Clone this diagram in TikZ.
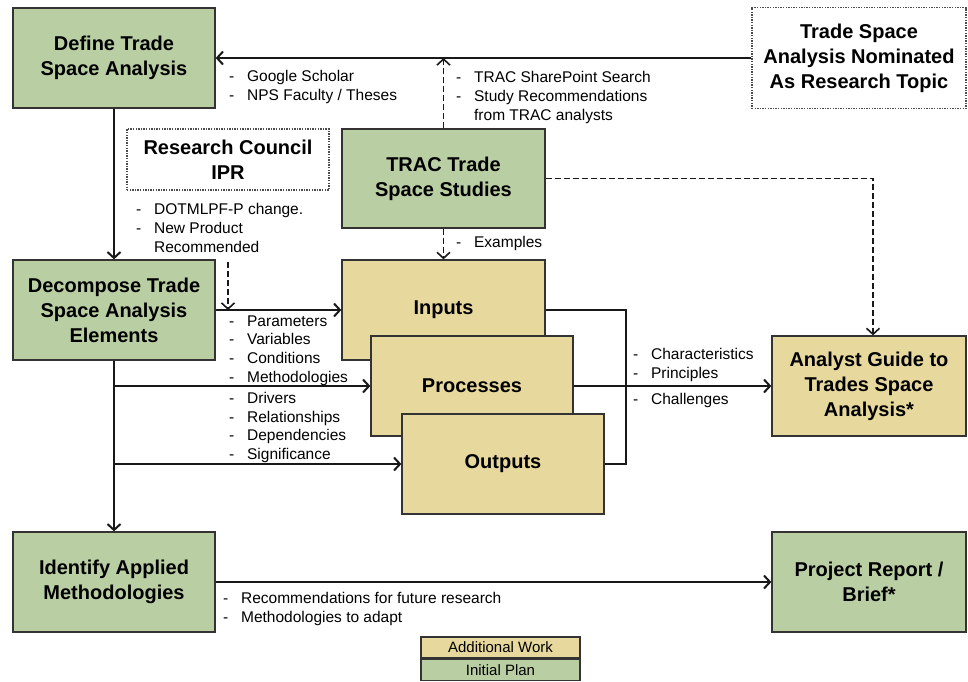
\documentclass[tikz,border=0pt]{standalone}
\usepackage{fontspec}
\setmainfont{Liberation Sans}
\usepackage{xcolor}
\usepackage{tikz}
\usetikzlibrary{arrows.meta}
\usetikzlibrary{calc}
\usetikzlibrary{positioning}

\definecolor{plangreen}{RGB}{185,207,163}
\definecolor{workyellow}{RGB}{231,216,157}
\newcommand{\notelist}[1]{\begin{tabular}{@{}l@{\hspace{13pt}}l@{}}#1\end{tabular}}

\begin{document}
\begin{tikzpicture}[x=1pt,y=-1pt,>={Straight Barb[length=6pt,width=13pt]},line width=2pt]
 				 \tikzstyle{box}=[draw=black!80, line width=1.3pt, rectangle, minimum width=202pt, minimum height=100pt, align=center, inner sep=2pt, font=\fontsize{20}{25}\selectfont\bfseries]
 				 \tikzstyle{initial}=[box, fill=plangreen]
 				 \tikzstyle{additional}=[box, fill=workyellow]
 				 \tikzstyle{topic}=[box, draw=black!70, line width=1.2pt, dash pattern=on 1.4pt off 1.2pt, fill=white]
 				 \tikzstyle{note}=[anchor=north west, inner sep=0pt, font=\fontsize{15.5}{19}\selectfont]
 				 \tikzstyle{legend}=[draw=black!80, line width=1.2pt, minimum width=159pt, minimum height=21pt, inner sep=0pt, font=\fontsize{15}{18}\selectfont]
 				 \tikzstyle{flow}=[->, line width=2pt, black!90]
 				 \tikzstyle{hint}=[->, line width=1.6pt, black!90, dash pattern=on 6pt off 3pt]
 				 \useasboundingbox (0,0) rectangle (968,681);
 					 \node[initial] (define) at (114,58) {Define Trade\\Space Analysis};
 					 \node[topic, minimum width=214pt, minimum height=101pt] (nominated) at (859,58) {Trade Space\\Analysis Nominated\\As Research Topic};
 					 \node[topic, minimum height=61pt] (council) at (228,159.5) {Research Council\\IPR};
 					 \node[initial, minimum width=203pt, minimum height=99pt] (trac) at (443.5,178.5) {TRAC Trade\\Space Studies};
 					 \node[initial] (decompose) at (114,310) {Decompose Trade\\Space Analysis\\Elements};
 					 \node[additional, minimum width=203pt] (inputs) at (443.5,310) {Inputs};
 					 \node[additional] (processes) at (472,386) {Processes};
 					 \node[additional] (outputs) at (503,464) {Outputs};
 					 \node[additional, minimum width=194pt] (guide) at (869,386) {Analyst Guide to\\Trades Space\\Analysis*};
 					 \node[initial] (identify) at (114,582) {Identify Applied\\Methodologies};
 					 \node[initial, minimum width=194pt] (report) at (869,582) {Project Report /\\Brief*};
 					 \node[legend, fill=workyellow] (legadd) at (500.5,647.5) {Additional Work};
 					 \node[legend, fill=plangreen, below=0pt of legadd] (legplan) {Initial Plan};
 					 \coordinate (ipr) at (228,262);
				\path[flow]
				(nominated) edge (define)
				(define) edge (decompose)
				(decompose) edge (inputs)
				(decompose) edge (identify)
				(processes) edge (guide)
				(identify) edge (report);
				\draw[flow] (decompose.south |- processes.west) -- (processes.west);
				\draw[flow] (decompose.south |- outputs.west) -- (outputs.west);
				\draw[line width=2pt, black!90] (inputs.east) -- ++(80,0) |- (outputs.east);
				\draw[hint] (trac.north) -- (trac.north |- define.east);
				\draw[hint] (trac) -- (inputs);
				\draw[hint] (trac) -| ([xshift=4pt]guide.north);
				\draw[hint] (ipr) -- (ipr |- decompose.east);
				% edge labels
 					 \node[note] (sources) at (228,67) {\notelist{- & Google Scholar\\- & NPS Faculty / Theses}};
 					 \node[note] (tracnotes) at (455,68) {\notelist{- & TRAC SharePoint Search\\- & Study Recommendations\\ & from TRAC analysts}};
 					 \node[note] (councilnotes) at (135,200) {\notelist{- & DOTMLPF-P change.\\- & New Product\\ & Recommended}};
 					 \node[note] (examples) at (455,233) {\notelist{- & Examples}};
 					 \node[note, font=\fontsize{15.5}{18.7}\selectfont] (elements) at (228,312) {\notelist{- & Parameters\\- & Variables\\- & Conditions\\- & Methodologies\\[2.5pt]- & Drivers\\- & Relationships\\- & Dependencies\\- & Significance}};
 					 \node[note] (traits) at (632,345) {\notelist{- & Characteristics\\- & Principles\\[7pt]- & Challenges}};
 					 \node[note] (findings) at (222,589) {\notelist{- & Recommendations for future research\\- & Methodologies to adapt}};
\end{tikzpicture}
\end{document}
